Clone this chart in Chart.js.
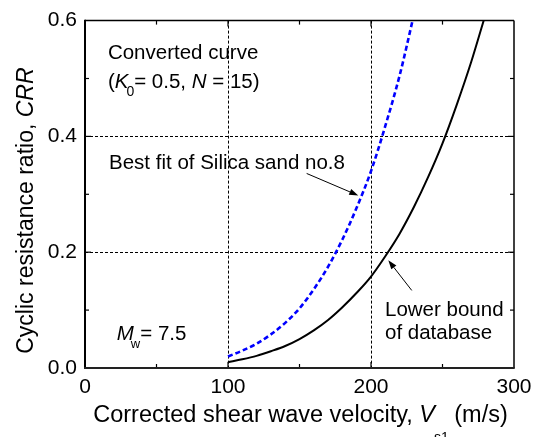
<!DOCTYPE html>
<html><head><meta charset="utf-8">
<script src="https://cdn.jsdelivr.net/npm/chart.js@4.4.1/dist/chart.umd.min.js"></script>
<style>html,body{margin:0;padding:0;background:#fff;}#wrap{width:539px;height:437px;position:relative;}</style>
</head><body><div id="wrap"><canvas id="c" width="539" height="437"></canvas></div>
<script>
const FONT = "'Liberation Sans', Arial, sans-serif";

// Lower bound of database (black solid)
const vsLower  = [100, 110, 120, 130, 140, 150, 160, 170, 180, 190, 200, 210, 220, 230, 240, 250, 260, 270, 280];
const crrLower = [0.010, 0.015, 0.021, 0.029, 0.038, 0.050, 0.065, 0.083, 0.105, 0.130, 0.158, 0.193, 0.232, 0.278, 0.330, 0.388, 0.455, 0.528, 0.610];

// Best fit of Silica sand no.8 (blue dashed)
const vsBest  = [100, 110, 120, 130, 140, 150, 160, 170, 180, 190, 200, 210, 220, 230];
const crrBest = [0.020, 0.030, 0.042, 0.058, 0.078, 0.103, 0.136, 0.175, 0.222, 0.277, 0.340, 0.418, 0.505, 0.610];

const xTickValues = [0, 100, 200, 300];
const yTickValues = [0.0, 0.2, 0.4, 0.6];
const xGridValues = [100, 200];
const yGridValues = [0.2, 0.4];
const xMinorTicks = [50, 150, 250];
const yMinorTicks = [0.1, 0.3, 0.5];

// annotation anchors in data units
const arrowBest  = {from: [155, 0.336], to: [191.1, 0.298]};
const arrowLower = {from: [228.5, 0.134], to: [212.1, 0.186]};

function pts(xs, ys) { return xs.map((x, i) => ({x: x, y: ys[i]})); }

function drawRich(ctx, x, y, segs, size, align) {
  const f = (it, s) => (it ? 'italic ' : '') + s + 'px ' + FONT;
  const m = segs.map(sg => {
    const s = sg.size || size;
    ctx.font = f(sg.it, s);
    return Object.assign({}, sg, {s: s, w: ctx.measureText(sg.t).width});
  });
  let total = 0;
  m.forEach(sg => total += sg.w + (sg.dx || 0));
  let cx = align === 'center' ? x - total / 2 : x;
  ctx.textAlign = 'left';
  ctx.textBaseline = 'alphabetic';
  ctx.fillStyle = '#000';
  for (const sg of m) {
    cx += sg.dx || 0;
    ctx.font = f(sg.it, sg.s);
    ctx.fillText(sg.t, cx, y + (sg.dy || 0));
    cx += sg.w;
  }
}

function arrow(ctx, x1, y1, x2, y2) {
  ctx.save();
  ctx.strokeStyle = '#000';
  ctx.fillStyle = '#000';
  ctx.lineWidth = 1;
  const ang = Math.atan2(y2 - y1, x2 - x1);
  const L = 9, W = 3.2;
  const bx = x2 - L * Math.cos(ang), by = y2 - L * Math.sin(ang);
  ctx.beginPath(); ctx.moveTo(x1, y1); ctx.lineTo(bx, by); ctx.stroke();
  ctx.beginPath();
  ctx.moveTo(x2, y2);
  ctx.lineTo(bx + W * Math.sin(ang), by - W * Math.cos(ang));
  ctx.lineTo(bx - W * Math.sin(ang), by + W * Math.cos(ang));
  ctx.closePath(); ctx.fill();
  ctx.restore();
}

const decor = {
  id: 'decor',
  afterDraw(chart) {
    const {ctx, chartArea: a, scales: {x, y}} = chart;
    const X = v => x.getPixelForValue(v), Y = v => y.getPixelForValue(v);
    ctx.save();
    ctx.strokeStyle = '#000';
    // inside ticks
    ctx.lineWidth = 1.2;
    const seg = (x1, y1, x2, y2) => { ctx.beginPath(); ctx.moveTo(x1, y1); ctx.lineTo(x2, y2); ctx.stroke(); };
    xMinorTicks.concat(xGridValues).forEach(v => {
      const len = xMinorTicks.includes(v) ? 4 : 6;
      seg(X(v), a.bottom, X(v), a.bottom - len);
      seg(X(v), a.top, X(v), a.top + len);
    });
    yMinorTicks.concat(yGridValues).forEach(v => {
      const len = yMinorTicks.includes(v) ? 4 : 6;
      seg(a.left, Y(v), a.left + len, Y(v));
      seg(a.right, Y(v), a.right - len, Y(v));
    });
    // frame
    ctx.lineWidth = 1.5;
    seg(a.left, a.top, a.right, a.top);
    seg(a.right, a.top, a.right, a.bottom);
    ctx.lineWidth = 2;
    seg(a.left, a.top - 0.75, a.left, a.bottom + 1);
    ctx.strokeStyle = '#222';
    ctx.lineWidth = 2.2;
    seg(a.left - 1, a.bottom, a.right + 0.75, a.bottom);
    ctx.restore();

    // annotations
    ctx.save();
    drawRich(ctx, X(16), Y(0.534), [{t: 'Converted curve'}], 20.5, 'left');
    drawRich(ctx, X(16), Y(0.484), [
      {t: '('}, {t: 'K', it: true}, {t: '0', size: 14, dy: 8, dx: -2}, {t: '= 0.5, '},
      {t: 'N', it: true}, {t: ' = 15)'}
    ], 20.5, 'left');
    drawRich(ctx, X(16.8), Y(0.343), [{t: 'Best fit of Silica sand no.8'}], 20.5, 'left');
    drawRich(ctx, X(209.8), Y(0.0905), [{t: 'Lower bound'}], 20.5, 'left');
    drawRich(ctx, X(209.8), Y(0.0509), [{t: 'of database'}], 20.5, 'left');
    drawRich(ctx, X(22.2), Y(0.0483), [
      {t: 'M', it: true}, {t: 'w', size: 13, dy: 8, dx: -3}, {t: '= 7.5'}
    ], 20.5, 'left');
    arrow(ctx, X(arrowBest.from[0]), Y(arrowBest.from[1]), X(arrowBest.to[0]), Y(arrowBest.to[1]));
    arrow(ctx, X(arrowLower.from[0]), Y(arrowLower.from[1]), X(arrowLower.to[0]), Y(arrowLower.to[1]));

    // axis titles
    drawRich(ctx, (a.left + a.right) / 2 + 1, a.bottom + 54, [
      {t: 'Corrected shear wave velocity, '}, {t: 'V', it: true},
      {t: 's1', size: 14, dy: 20, dx: -1}, {t: ' (m/s)', dx: -1}
    ], 23.5, 'center');
    ctx.translate(33, a.top + 190);
    ctx.rotate(-Math.PI / 2);
    drawRich(ctx, 0, 0, [{t: 'Cyclic resistance ratio, '}, {t: 'CRR', it: true}], 23, 'center');
    ctx.restore();
  }
};

const gridColor = vals => c => (c.tick && vals.some(v => Math.abs(v - c.tick.value) < 1e-9)) ? '#000' : 'rgba(0,0,0,0)';

new Chart(document.getElementById('c'), {
  type: 'scatter',
  data: {
    datasets: [
      {label: 'Lower bound of database', data: pts(vsLower, crrLower), showLine: true,
       borderColor: '#000', borderWidth: 2, pointRadius: 0, cubicInterpolationMode: 'monotone', order: 2},
      {label: 'Best fit of Silica sand no.8', data: pts(vsBest, crrBest), showLine: true,
       borderColor: '#0000ff', borderWidth: 2.6, borderDash: [5, 3], pointRadius: 0,
       cubicInterpolationMode: 'monotone', order: 1}
    ]
  },
  options: {
    responsive: false,
    animation: false,
    devicePixelRatio: 1,
    layout: {padding: {top: 19, right: 25, left: 0, bottom: 0}},
    plugins: {legend: {display: false}, tooltip: {enabled: false}},
    scales: {
      x: {
        type: 'linear', min: 0, max: 300,
        afterBuildTicks: s => { s.ticks = xTickValues.map(v => ({value: v})); },
        afterFit: s => { s.height = 69; },
        ticks: {font: {family: FONT, size: 21}, color: '#000', padding: 7, maxRotation: 0, autoSkip: false,
                callback: v => String(v)},
        grid: {color: gridColor(xGridValues), lineWidth: 1, drawTicks: false},
        border: {display: false, dash: [3, 2]}
      },
      y: {
        type: 'linear', min: 0, max: 0.6,
        afterBuildTicks: s => { s.ticks = yTickValues.map(v => ({value: v})); },
        afterFit: s => { s.width = 85; },
        ticks: {font: {family: FONT, size: 21}, color: '#000', padding: 8, autoSkip: false,
                callback: v => Number(v).toFixed(1)},
        grid: {color: gridColor(yGridValues), lineWidth: 1, drawTicks: false},
        border: {display: false, dash: [3, 2]}
      }
    }
  },
  plugins: [decor]
});
</script>
</body></html>
